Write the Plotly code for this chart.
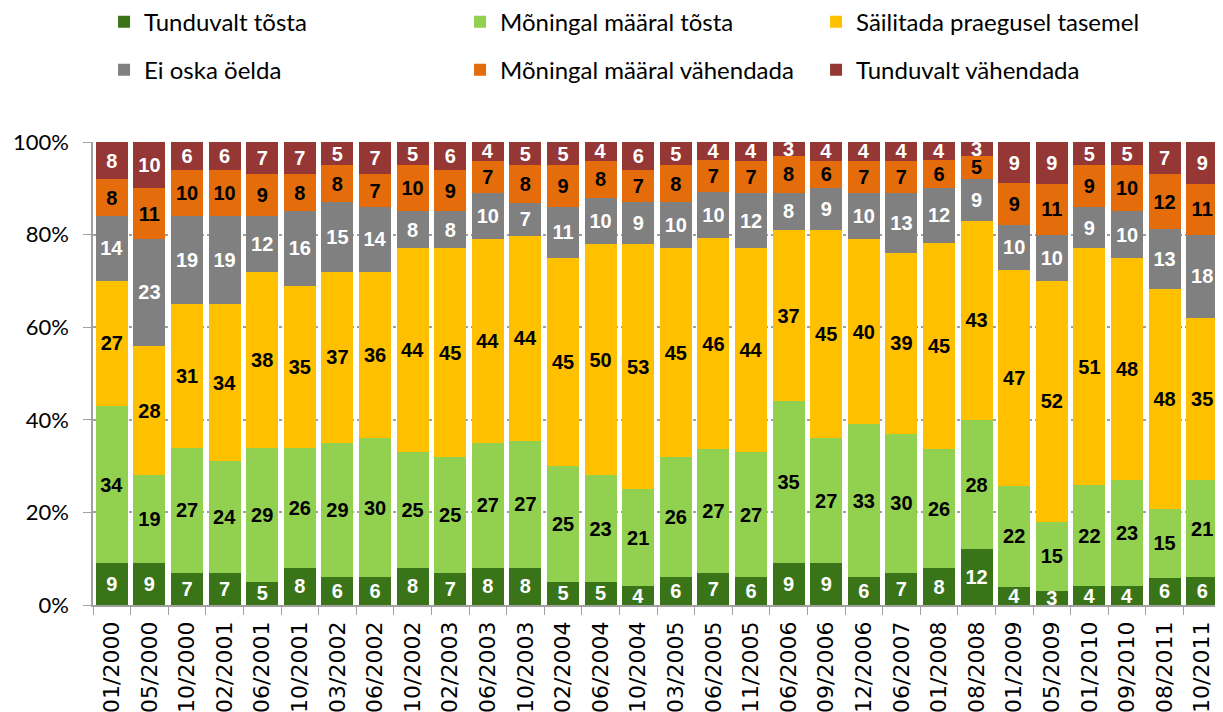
import plotly.graph_objects as go

categories = ["01/2000", "05/2000", "10/2000", "02/2001", "06/2001", "10/2001", "03/2002", "06/2002",
              "10/2002", "02/2003", "06/2003", "10/2003", "02/2004", "06/2004", "10/2004", "03/2005",
              "06/2005", "11/2005", "06/2006", "09/2006", "12/2006", "06/2007", "01/2008", "08/2008",
              "01/2009", "05/2009", "01/2010", "09/2010", "08/2011", "10/2011"]

tunduvalt_tosta = [9, 9, 7, 7, 5, 8, 6, 6, 8, 7, 8, 8, 5, 5, 4, 6, 7, 6, 9, 9, 6, 7, 8, 12, 4, 3, 4, 4, 6, 6]
moningal_tosta = [34, 19, 27, 24, 29, 26, 29, 30, 25, 25, 27, 27, 25, 23, 21, 26, 27, 27, 35, 27, 33, 30, 26, 28, 22, 15, 22, 23, 15, 21]
sailitada = [27, 28, 31, 34, 38, 35, 37, 36, 44, 45, 44, 44, 45, 50, 53, 45, 46, 44, 37, 45, 40, 39, 45, 43, 47, 52, 51, 48, 48, 35]
ei_oska = [14, 23, 19, 19, 12, 16, 15, 14, 8, 8, 10, 7, 11, 10, 9, 10, 10, 12, 8, 9, 10, 13, 12, 9, 10, 10, 9, 10, 13, 18]
moningal_vahendada = [8, 11, 10, 10, 9, 8, 8, 7, 10, 9, 7, 8, 9, 8, 7, 8, 7, 7, 8, 6, 7, 7, 6, 5, 9, 11, 9, 10, 12, 11]
tunduvalt_vahendada = [8, 10, 6, 6, 7, 7, 5, 7, 5, 6, 4, 5, 5, 4, 6, 5, 4, 4, 3, 4, 4, 4, 4, 3, 9, 9, 5, 5, 7, 9]

y_tickvals = [0, 20, 40, 60, 80, 100]
y_ticktext = ["0%", "20%", "40%", "60%", "80%", "100%"]

series = [
    ("Tunduvalt tõsta", tunduvalt_tosta, "#3A7418", "white", "legend"),
    ("Mõningal määral tõsta", moningal_tosta, "#92D050", "black", "legend"),
    ("Säilitada praegusel tasemel", sailitada, "#FFC000", "black", "legend"),
    ("Ei oska öelda", ei_oska, "#808080", "white", "legend2"),
    ("Mõningal määral vähendada", moningal_vahendada, "#E46C0A", "black", "legend2"),
    ("Tunduvalt vähendada", tunduvalt_vahendada, "#953735", "white", "legend2"),
]

fig = go.Figure()
for name, vals, color, tcolor, leg in series:
    fig.add_trace(go.Bar(
        name=name, x=categories, y=vals, text=vals, texttemplate="%{text}",
        textposition="inside", insidetextanchor="middle", textangle=0,
        textfont=dict(family="Liberation Sans", size=20, color=tcolor, weight="bold"),
        marker=dict(color=color, line=dict(width=0)),
        legend=leg, hoverinfo="skip",
    ))

legend_common = dict(orientation="h", entrywidth=311, entrywidthmode="pixels",
                     font=dict(family="Lato", size=24, color="black"),
                     xanchor="left", yanchor="middle", bgcolor="rgba(0,0,0,0)",
                     traceorder="normal", itemwidth=30)

fig.update_layout(
    width=1223, height=712,
    margin=dict(l=85, r=10, t=134, b=115, autoexpand=False),
    paper_bgcolor="white", plot_bgcolor="white",
    barmode="stack", barnorm="percent", bargap=0.15,
    uniformtext=dict(minsize=20, mode="show"),
    legend=dict(x=0.0098, y=1.259, **legend_common),
    legend2=dict(x=0.0098, y=1.155, **legend_common),
    xaxis=dict(
        tickangle=-90, ticks="outside", tickson="boundaries", ticklen=8, tickcolor="#A0A0A0",
        showline=True, linecolor="#A0A0A0", linewidth=1.5, ticklabelstandoff=6,
        tickfont=dict(family="DejaVu Sans", size=22, color="black"),
        automargin=False,
    ),
    yaxis=dict(
        range=[0, 100], tickmode="array", tickvals=y_tickvals, ticktext=y_ticktext,
        ticks="outside", ticklen=8, tickcolor="#A0A0A0", ticklabelstandoff=10,
        showline=True, linecolor="#A0A0A0", linewidth=1.5,
        showgrid=True, gridcolor="#A0A0A0", griddash="dot", gridwidth=1.5,
        tickfont=dict(family="Lato", size=22, color="black"),
        automargin=False, zeroline=False,
    ),
)

fig.write_html("out.html")
